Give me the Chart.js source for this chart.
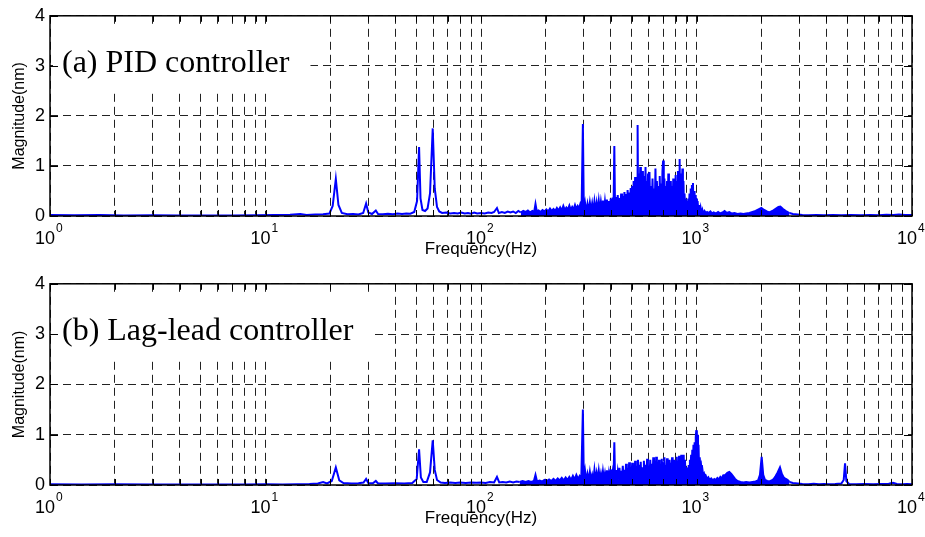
<!DOCTYPE html>
<html>
<head>
<meta charset="utf-8">
<script src="https://cdn.jsdelivr.net/npm/chart.js@4/dist/chart.umd.min.js"></script>
<style>
  body { margin: 0; background: #fff; }
  #wrap { position: relative; width: 925px; height: 537px; }
  canvas { position: absolute; left: 0; }
</style>
</head>
<body>
<div id="wrap">
  <canvas id="chartA" width="925" height="270" style="top:0"></canvas>
  <canvas id="chartB" width="925" height="269" style="top:268px"></canvas>
</div>
<script>
// grid positions on the log axis and the labelled decades
const xGrid = [1, 2, 3, 4, 5, 6, 7, 8, 9,
    10, 20, 30, 40, 50, 60, 70, 80, 90,
    100, 200, 300, 400, 500, 600, 700, 800, 900,
    1000, 2000, 3000, 4000, 5000, 6000, 7000, 8000, 9000, 10000];
const xDecades = [1, 10, 100, 1000, 10000];
const xExponents = ["0", "1", "2", "3", "4"];
const yTicks = [0, 1, 2, 3, 4];

// (a) PID controller
const freqA = [1, 1.3, 1.7, 2.2, 3, 4, 5.5, 7, 9, 11, 13, 14.5, 15.5, 17, 18.5, 19.8,
    20.5, 21.2, 21.8, 22.6, 24, 25.5, 27, 28.4, 29.3, 30, 31.2, 32.5, 33.3, 35, 37, 39,
    41, 43, 45, 47, 49, 50.5, 51.6, 52.4, 53.5, 55, 56.5, 58, 59.7, 61, 62.5, 64, 66,
    69, 72, 75, 78, 81, 84, 87, 90, 93, 96, 100, 104, 108, 112, 115, 118.6, 121, 125,
    129, 133, 137, 141, 145, 149, 153, 157, 161, 165, 169, 173, 176.5, 179, 181.5, 185,
    189, 193, 197, 201, 205, 209, 213, 217, 221, 225, 229, 233, 237, 241, 245, 249,
    253, 257, 261, 265, 269, 273, 277, 281, 285, 289, 293, 297, 300, 304, 308, 312,
    316, 320, 324, 328, 332, 336, 340, 344, 348, 352, 356, 360, 364, 368, 372, 376,
    380, 384, 388, 392, 396, 400, 404, 408, 412, 415.6, 419, 423, 427, 431, 435, 439,
    443, 447, 451, 455, 459, 463, 467, 471, 475, 479, 483, 487, 491, 495, 499, 503,
    507, 511, 515, 519, 523, 527, 530, 533, 536, 540, 544, 548, 552, 556, 560, 564,
    568, 572, 576, 580, 584, 588, 592, 596, 600, 605, 610, 615, 620, 625, 630, 635,
    640, 645, 650, 655, 660, 665, 670, 675, 680, 685, 690, 695, 700, 705, 710, 715,
    720, 725, 730, 735, 740, 745, 750, 755, 760, 765, 770, 775, 780, 785, 790, 795,
    800, 805, 810, 815, 820, 825, 830, 835, 840, 845, 850, 855, 860, 865, 870, 875,
    880, 886, 892, 898, 904, 910, 916, 922, 928, 934, 940, 946, 952, 958, 963, 968,
    974, 980, 986, 992, 998, 1005, 1012, 1020, 1028, 1036, 1045, 1055, 1065, 1075,
    1090, 1105, 1120, 1140, 1160, 1180, 1200, 1230, 1260, 1290, 1320, 1350, 1380,
    1420, 1460, 1500, 1550, 1600, 1650, 1700, 1760, 1820, 1880, 1940, 2000, 2060,
    2120, 2180, 2250, 2320, 2400, 2450, 2520, 2600, 2700, 2800, 2950, 3100, 3300,
    3600, 3900, 4300, 4700, 5200, 5800, 6400, 7000, 7600, 8200, 8700, 9300, 10000];
const magA = [0.02, 0.015, 0.02, 0.012, 0.015, 0.01, 0.012, 0.01, 0.015, 0.02, 0.025, 0.04, 0.02, 0.03, 0.035, 0.05,
    0.2, 0.74, 0.22, 0.06, 0.035, 0.04, 0.03, 0.06, 0.25, 0.07, 0.04, 0.11, 0.04, 0.035, 0.045, 0.035,
    0.05, 0.04, 0.05, 0.045, 0.08, 0.3, 1.38, 0.35, 0.12, 0.1, 0.15, 0.45, 1.75, 0.55, 0.18, 0.09, 0.06,
    0.07, 0.05, 0.06, 0.05, 0.07, 0.05, 0.06, 0.045, 0.07, 0.05, 0.06, 0.05, 0.07, 0.06, 0.08, 0.16, 0.06, 0.08,
    0.06, 0.09, 0.07, 0.09, 0.06, 0.1, 0.07, 0.1, 0.08, 0.11, 0.07, 0.1, 0.08, 0.24, 0.09, 0.11,
    0.08, 0.12, 0.09, 0.13, 0.09, 0.15, 0.1, 0.14, 0.1, 0.16, 0.11, 0.17, 0.11, 0.2, 0.12, 0.17,
    0.13, 0.21, 0.12, 0.18, 0.13, 0.22, 0.14, 0.2, 0.15, 0.24, 0.17, 1.84, 0.1, 0.26, 0.08, 0.24,
    0.09, 0.27, 0.1, 0.25, 0.08, 0.29, 0.1, 0.26, 0.09, 0.3, 0.1, 0.28, 0.11, 0.31, 0.09, 0.29,
    0.1, 0.33, 0.11, 0.3, 0.1, 0.35, 0.12, 0.37, 0.11, 1.4, 0.1, 0.38, 0.11, 0.42, 0.09, 0.36,
    0.12, 0.45, 0.1, 0.4, 0.11, 0.48, 0.09, 0.44, 0.12, 0.52, 0.1, 0.47, 0.13, 0.56, 0.11, 0.6,
    0.12, 0.7, 0.1, 0.78, 0.13, 0.65, 0.12, 1.82, 0.1, 0.85, 0.12, 0.98, 0.09, 0.75, 0.13, 0.9,
    0.1, 0.8, 0.12, 0.98, 0.09, 0.7, 0.13, 0.85, 0.1, 0.88, 0.12, 0.6, 0.14, 0.75, 0.1, 0.55,
    0.13, 0.95, 0.11, 0.7, 0.14, 0.6, 0.1, 0.8, 0.13, 0.65, 0.11, 0.9, 1.11, 0.14, 0.75, 0.1,
    0.6, 0.13, 0.7, 0.1, 0.85, 0.14, 0.55, 0.11, 0.7, 0.13, 0.6, 0.1, 0.75, 0.14, 0.65, 0.11,
    0.82, 0.14, 0.7, 0.1, 0.9, 0.13, 0.75, 1.14, 0.12, 0.85, 0.1, 0.6, 0.95, 0.12, 0.7, 0.1,
    0.45, 0.1, 0.35, 0.09, 0.3, 0.1, 0.35, 0.12, 0.45, 0.11, 0.55, 0.13, 0.62, 0.14, 0.66, 0.12,
    0.5, 0.1, 0.42, 0.09, 0.35, 0.08, 0.3, 0.07, 0.22, 0.06, 0.16, 0.05, 0.12, 0.05,
    0.1, 0.06, 0.08, 0.06, 0.09, 0.05, 0.07, 0.05, 0.08, 0.05, 0.07, 0.1, 0.06,
    0.08, 0.05, 0.06, 0.04, 0.05, 0.04, 0.05, 0.06, 0.08, 0.1, 0.13, 0.16, 0.12,
    0.09, 0.07, 0.1, 0.14, 0.18, 0.19, 0.14, 0.1, 0.06, 0.04, 0.03, 0.02, 0.015,
    0.02, 0.015, 0.02, 0.015, 0.02, 0.015, 0.02, 0.015, 0.025, 0.02, 0.03, 0.02, 0.02];

// (b) Lag-lead controller
const freqB = [1, 1.4, 2, 3, 4.5, 6, 8, 10, 12, 14, 16, 17.5, 18.5, 19.3, 20.3, 21.2, 22,
    23, 25, 27, 28.5, 29.3, 30, 31.5, 32.5, 33.3, 36, 40, 44, 48, 50.3, 51.6, 52.6, 54,
    56, 58, 59.7, 61, 62.5, 65, 68, 72, 76, 80, 85, 90, 95, 100, 105, 110, 115, 118.6,
    121.5, 126, 131, 136, 141, 146, 151, 156, 161, 166, 171, 176, 179, 182, 187, 192,
    197, 202, 207, 212, 217, 222, 227, 232, 237, 242, 247, 252, 257, 262, 267, 272,
    277, 282, 287, 292, 297, 300, 304, 308, 312, 316, 320, 324, 328, 332, 336, 340,
    344, 348, 352, 356, 360, 364, 368, 372, 376, 380, 384, 388, 392, 396, 400, 404,
    408, 412, 415.6, 419, 423, 427, 431, 435, 439, 443, 447, 451, 455, 459, 463, 467,
    471, 475, 479, 483, 487, 491, 495, 499, 503, 507, 511, 515, 519, 523, 527, 531,
    535, 539, 543, 547, 551, 555, 560, 565, 570, 575, 580, 585, 590, 595, 600, 605,
    610, 615, 620, 625, 630, 635, 640, 645, 650, 655, 660, 665, 670, 675, 680, 685,
    690, 695, 700, 705, 710, 715, 720, 725, 730, 735, 740, 745, 750, 755, 760, 765,
    770, 775, 780, 785, 790, 795, 800, 805, 810, 815, 820, 825, 830, 835, 840, 845,
    850, 855, 860, 866, 872, 878, 884, 890, 896, 902, 908, 914, 920, 926, 932, 938,
    944, 950, 956, 962, 968, 974, 980, 986, 992, 998, 1004, 1010, 1016, 1022, 1028,
    1035, 1042, 1050, 1058, 1066, 1075, 1085, 1095, 1105, 1120, 1135, 1150, 1170,
    1190, 1210, 1230, 1250, 1270, 1290, 1310, 1330, 1360, 1390, 1420, 1450, 1480,
    1510, 1550, 1600, 1650, 1700, 1760, 1820, 1880, 1930, 1970, 2006, 2040, 2080,
    2130, 2180, 2230, 2280, 2330, 2380, 2440, 2490, 2540, 2600, 2650, 2700, 2800,
    2950, 3100, 3300, 3500, 3700, 3900, 4100, 4400, 4700, 4820, 4890, 4960, 5100,
    5500, 6000, 6600, 7200, 7800, 8170, 8500, 9000, 9500, 10000];
const magB = [0.015, 0.012, 0.015, 0.01, 0.012, 0.01, 0.012, 0.015, 0.012, 0.015, 0.02, 0.03, 0.06, 0.03, 0.08, 0.35, 0.09,
    0.04, 0.03, 0.035, 0.05, 0.12, 0.04, 0.035, 0.08, 0.03, 0.03, 0.035, 0.03, 0.04, 0.12, 0.71, 0.15, 0.06,
    0.06, 0.25, 0.89, 0.3, 0.1, 0.05, 0.04, 0.05, 0.04, 0.05, 0.04, 0.05, 0.045, 0.05, 0.04, 0.06, 0.05, 0.16,
    0.05, 0.06, 0.05, 0.07, 0.05, 0.07, 0.06, 0.08, 0.06, 0.08, 0.06, 0.08, 0.2, 0.07, 0.09, 0.07,
    0.1, 0.08, 0.11, 0.08, 0.12, 0.08, 0.13, 0.09, 0.14, 0.09, 0.15, 0.1, 0.16, 0.1, 0.18, 0.11,
    0.2, 0.12, 0.18, 0.13, 1.5, 0.1, 0.28, 0.08, 0.22, 0.09, 0.26, 0.1, 0.2, 0.08, 0.3, 0.1,
    0.24, 0.09, 0.28, 0.1, 0.22, 0.08, 0.27, 0.11, 0.23, 0.09, 0.29, 0.1, 0.24, 0.09, 0.31, 0.11,
    0.25, 0.1, 0.85, 0.1, 0.3, 0.09, 0.26, 0.11, 0.34, 0.1, 0.28, 0.12, 0.38, 0.1, 0.3, 0.11,
    0.42, 0.1, 0.33, 0.12, 0.45, 0.09, 0.35, 0.11, 0.44, 0.1, 0.36, 0.12, 0.48, 0.1, 0.38, 0.11,
    0.5, 0.1, 0.4, 0.12, 0.46, 0.09, 0.35, 0.13, 0.48, 0.1, 0.4, 0.12, 0.52, 0.1, 0.38, 0.13,
    0.5, 0.11, 0.42, 0.13, 0.55, 0.1, 0.44, 0.12, 0.56, 0.11, 0.4, 0.13, 0.5, 0.1, 0.42, 0.12,
    0.52, 0.11, 0.45, 0.13, 0.55, 0.1, 0.4, 0.14, 0.53, 0.11, 0.46, 0.12, 0.5, 0.1, 0.44, 0.13,
    0.55, 0.12, 0.42, 0.14, 0.5, 0.11, 0.48, 0.15, 0.56, 0.12, 0.45, 0.14, 0.58, 0.13, 0.5, 0.15,
    0.6, 0.14, 0.55, 0.16, 0.6, 0.13, 0.5, 0.12, 0.35, 0.1, 0.3, 0.12, 0.4, 0.15, 0.5, 0.2,
    0.6, 0.25, 0.7, 0.3, 0.8, 0.35, 0.85, 0.4, 0.95, 1.09, 0.5, 1.0, 0.4, 0.8, 0.3,
    0.55, 0.35, 0.4, 0.25, 0.3, 0.18, 0.22, 0.14, 0.18, 0.12, 0.15, 0.1, 0.13,
    0.09, 0.12, 0.1, 0.14, 0.11, 0.16, 0.13, 0.19, 0.2, 0.24, 0.26, 0.22, 0.17,
    0.12, 0.08, 0.06, 0.05, 0.06, 0.05, 0.06, 0.07, 0.09, 0.2, 0.56, 0.2, 0.1,
    0.08, 0.07, 0.09, 0.12, 0.18, 0.25, 0.35, 0.22, 0.15, 0.12, 0.1, 0.06, 0.04,
    0.03, 0.02, 0.015, 0.025, 0.015, 0.02, 0.015, 0.02, 0.03, 0.1, 0.43, 0.08, 0.02,
    0.015, 0.02, 0.015, 0.02, 0.025, 0.045, 0.02, 0.015, 0.02, 0.015];

// frequency band (Hz) where the dense spectrum reads as a solid blue mass
const denseBand = [150, 2700];

const sansFont = '"Liberation Sans", Arial, sans-serif';
const serifFont = '"Liberation Serif", "Times New Roman", serif';

// white-boxed panel caption, axes frame, inner ticks and 10^n labels
const framePlugin = {
    id: "frame",
    afterDatasetsDraw(chart, args, opts) {
        const ctx = chart.ctx;
        const area = chart.chartArea;
        const xs = chart.scales.x;
        const ys = chart.scales.y;

        ctx.save();
        ctx.font = "32px " + serifFont;
        const w = ctx.measureText(opts.label).width;
        ctx.fillStyle = "#fff";
        ctx.fillRect(area.left + 3, 27, w + 30, 62);
        ctx.fillStyle = "#000";
        ctx.textBaseline = "alphabetic";
        ctx.fillText(opts.label, area.left + 12, 72);

        ctx.strokeStyle = "#000";
        ctx.lineWidth = 1;
        ctx.beginPath();
        yTicks.forEach(v => {
            const y = Math.round(ys.getPixelForValue(v)) + 0.5;
            ctx.moveTo(area.left, y);
            ctx.lineTo(area.left + 8, y);
            ctx.moveTo(area.right, y);
            ctx.lineTo(area.right - 8, y);
        });
        xGrid.forEach(v => {
            const x = Math.round(xs.getPixelForValue(v)) + 0.5;
            ctx.moveTo(x, area.bottom);
            ctx.lineTo(x, area.bottom - 6);
            ctx.moveTo(x, area.top);
            ctx.lineTo(x, area.top + 6);
        });
        ctx.stroke();

        ctx.lineWidth = 1.5;
        ctx.strokeRect(area.left, area.top, area.right - area.left, area.bottom - area.top);

        xDecades.forEach((v, i) => {
            const x = xs.getPixelForValue(v);
            ctx.font = "18px " + sansFont;
            ctx.textAlign = "right";
            ctx.fillText("10", x + 5, area.bottom + 27.5);
            ctx.font = "12px " + sansFont;
            ctx.textAlign = "left";
            ctx.fillText(xExponents[i], x + 6, area.bottom + 16);
        });
        ctx.restore();
    }
};

function makeChart(id, freq, mag, label, xAxisHeight, xTitlePad) {
    const points = freq.map((f, i) => ({ x: f, y: mag[i] }));
    return new Chart(document.getElementById(id), {
        type: "line",
        data: {
            datasets: [{
                data: points,
                borderColor: "#0000ff",
                borderWidth: 2,
                pointRadius: 0,
                tension: 0,
                fill: "origin",
                backgroundColor: "rgba(0,0,255,0)",
                segment: {
                    backgroundColor: c => {
                        const f0 = freq[c.p0DataIndex];
                        const f1 = freq[c.p1DataIndex];
                        return (f0 >= denseBand[0] && f1 <= denseBand[1]) ? "#0000ff" : undefined;
                    }
                }
            }]
        },
        options: {
            responsive: false,
            animation: false,
            events: [],
            layout: { padding: { top: 15, right: 13, left: 0, bottom: 0 } },
            plugins: {
                legend: { display: false },
                tooltip: { enabled: false },
                frame: { label }
            },
            scales: {
                x: {
                    type: "logarithmic",
                    min: 1,
                    max: 10000,
                    afterBuildTicks: scale => {
                        scale.ticks = xGrid.map(v => ({ value: v }));
                    },
                    afterFit: scale => { scale.height = xAxisHeight; },
                    ticks: { display: false, autoSkip: false },
                    grid: { color: "#222", lineWidth: 1, drawTicks: false },
                    border: { display: false, dash: [8, 5] },
                    title: {
                        display: true,
                        text: "Frequency(Hz)",
                        color: "#000",
                        font: { family: sansFont, size: 17 },
                        padding: { top: 0, bottom: xTitlePad }
                    }
                },
                y: {
                    min: 0,
                    max: 4,
                    afterBuildTicks: scale => {
                        scale.ticks = yTicks.map(v => ({ value: v }));
                    },
                    afterFit: scale => { scale.width = 50; },
                    ticks: {
                        color: "#000",
                        padding: 5,
                        font: { family: sansFont, size: 18 },
                        callback: v => String(v)
                    },
                    grid: { color: "#222", lineWidth: 1, drawTicks: false },
                    border: { display: false, dash: [8, 5] },
                    title: {
                        display: true,
                        text: "Magnitude(nm)",
                        color: "#000",
                        font: { family: sansFont, size: 16 },
                        padding: { top: 10, bottom: 0 }
                    }
                }
            }
        },
        plugins: [framePlugin]
    });
}

makeChart("chartA", freqA, magA, "(a) PID controller", 54, 10.8);
makeChart("chartB", freqB, magB, "(b) Lag-lead controller", 52, 8.8);
</script>
</body>
</html>
